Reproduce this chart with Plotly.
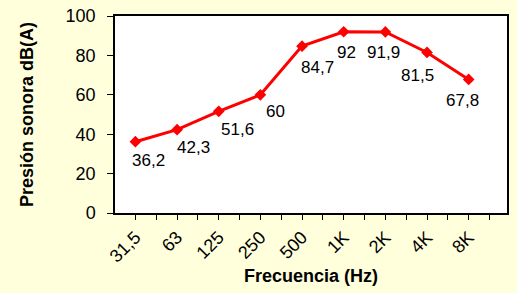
import plotly.graph_objects as go

categories = ["31,5", "63", "125", "250", "500", "1K", "2K", "4K", "8K"]
values = [36.2, 42.3, 51.6, 60, 84.7, 92, 91.9, 81.5, 67.8]
value_labels = ["36,2", "42,3", "51,6", "60", "84,7", "92", "91,9", "81,5", "67,8"]
y_ticks = [0, 20, 40, 60, 80, 100]

# pixel offsets of the data labels (styling)
label_dx = [13, 16, 19, 15, 15, 3, -2, -10, -6]
label_dy = [19, 18, 18, 17, 21, 21, 21, 23, 21]

xpos = list(range(len(categories)))

fig = go.Figure()
fig.add_trace(go.Scatter(
    x=xpos, y=values, mode="lines+markers",
    line=dict(color="#FF0000", width=3),
    marker=dict(symbol="diamond", size=9, color="#FF0000"),
    hoverinfo="skip", showlegend=False,
))

for i, (v, t) in enumerate(zip(values, value_labels)):
    fig.add_annotation(
        x=xpos[i], y=v, text=t, showarrow=False,
        xanchor="center", yanchor="middle",
        xshift=label_dx[i], yshift=-label_dy[i],
        font=dict(family="Liberation Sans, Arial", size=17, color="#000000"),
    )

tickvals = []
ticktext = []
for i, c in enumerate(categories):
    tickvals += [i, i + 0.5]
    ticktext += [c, ""]

fig.update_layout(
    width=517, height=293,
    margin=dict(l=115, r=10, t=16, b=80),
    paper_bgcolor="#FFFFDC",
    plot_bgcolor="#FFFFFF",
    font=dict(family="Liberation Sans, Arial, sans-serif", color="#000000"),
    xaxis=dict(
        range=[-0.49, 8.92], tickmode="array", tickvals=tickvals, ticktext=ticktext,
        tickangle=-45, ticks="outside", ticklen=5, tickcolor="#000000",
        showline=True, linecolor="#000000", linewidth=1.5, mirror=True,
        showgrid=False, zeroline=False, automargin=False,
        tickfont=dict(size=18),
        title=dict(text="<b>Frecuencia (Hz)</b>", font=dict(size=18), standoff=4),
    ),
    yaxis=dict(
        range=[0, 100], tickmode="array", tickvals=y_ticks,
        ticks="outside", ticklen=6, tickcolor="#000000",
        showline=True, linecolor="#000000", linewidth=1.5, mirror=True,
        showgrid=False, zeroline=False, automargin=False,
        tickfont=dict(size=18), ticklabelstandoff=8,
        title=dict(text="<b>Presión sonora dB(A)</b>", font=dict(size=18), standoff=27),
    ),
)

fig.write_html("out.html", config={"displayModeBar": False},
               post_script="document.body.style.margin='0';document.body.style.overflow='hidden';")
